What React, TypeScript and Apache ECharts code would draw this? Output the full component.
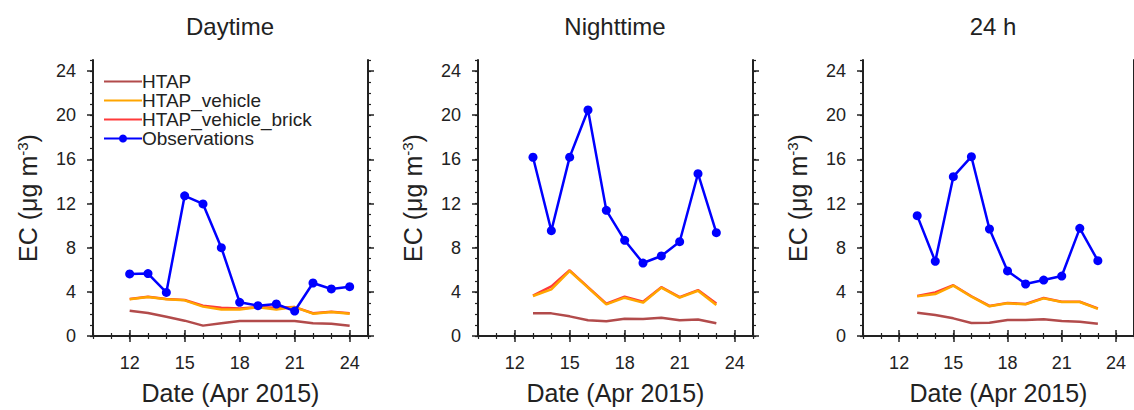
import React, { useEffect, useRef } from 'react';
import * as echarts from 'echarts';

// Dates (day of April 2015)
const dayDates = [12, 13, 14, 15, 16, 17, 18, 19, 20, 21, 22, 23, 24];
const nightDates = [13, 14, 15, 16, 17, 18, 19, 20, 21, 22, 23];
const fullDates = [13, 14, 15, 16, 17, 18, 19, 20, 21, 22, 23];

// Daytime
const dayHTAP = [2.29, 2.08, 1.75, 1.39, 0.94, 1.15, 1.36, 1.36, 1.36, 1.36, 1.15, 1.12, 0.93];
const dayVehicle = [3.32, 3.53, 3.32, 3.23, 2.66, 2.41, 2.41, 2.6, 2.41, 2.62, 2.02, 2.17, 2.02];
const dayBrick = [3.35, 3.56, 3.35, 3.26, 2.74, 2.55, 2.5, 2.62, 2.55, 2.62, 2.06, 2.2, 2.06];
const dayObs = [5.62, 5.65, 3.95, 12.7, 11.96, 8.0, 3.05, 2.75, 2.9, 2.26, 4.8, 4.26, 4.47];

// Nighttime
const nightHTAP = [2.05, 2.05, 1.78, 1.42, 1.33, 1.57, 1.54, 1.66, 1.42, 1.5, 1.15];
const nightVehicle = [3.62, 4.23, 5.89, 4.38, 2.87, 3.47, 3.02, 4.38, 3.47, 4.1, 2.81];
const nightBrick = [3.66, 4.5, 5.95, 4.42, 2.92, 3.56, 3.1, 4.42, 3.52, 4.16, 2.95];
const nightObs = [16.19, 9.54, 16.2, 20.47, 11.38, 8.67, 6.61, 7.25, 8.54, 14.7, 9.36];

// 24 h
const fullHTAP = [2.11, 1.9, 1.6, 1.18, 1.2, 1.45, 1.45, 1.51, 1.36, 1.3, 1.11];
const fullVehicle = [3.59, 3.8, 4.56, 3.56, 2.69, 2.96, 2.87, 3.41, 3.08, 3.08, 2.45];
const fullBrick = [3.62, 3.95, 4.6, 3.6, 2.72, 3.0, 2.9, 3.45, 3.1, 3.1, 2.5];
const fullObs = [10.9, 6.76, 14.43, 16.24, 9.69, 5.89, 4.71, 5.07, 5.43, 9.75, 6.82];

const panelTitles = ['Daytime', 'Nighttime', '24 h'];
const xMajorTicks = [12, 15, 18, 21, 24];
const yMajorTicks = [0, 4, 8, 12, 16, 20, 24];
const seriesNames = ['HTAP', 'HTAP_vehicle', 'HTAP_vehicle_brick', 'Observations'];

const panels = [
  { dates: dayDates, htap: dayHTAP, vehicle: dayVehicle, brick: dayBrick, obs: dayObs },
  { dates: nightDates, htap: nightHTAP, vehicle: nightVehicle, brick: nightBrick, obs: nightObs },
  { dates: fullDates, htap: fullHTAP, vehicle: fullVehicle, brick: fullBrick, obs: fullObs },
];

const FONT = "'Liberation Sans', Arial, Helvetica, sans-serif";
const INK = '#222222';
const gridLefts = [93, 478, 863];
const gridTitleX = [230, 615, 993];

export default function App() {
  const ref = useRef<HTMLDivElement>(null);

  useEffect(() => {
    document.body.style.margin = '0';
    if (!ref.current) return;
    const chart = echarts.init(ref.current, undefined, { renderer: 'svg' });

    const grids: any[] = [];
    const xAxes: any[] = [];
    const yAxes: any[] = [];
    const series: any[] = [];

    const lineStyleAxis = { show: true, lineStyle: { color: INK, width: 2 } };

    panels.forEach((p, i) => {
      grids.push({ left: gridLefts[i], top: 60, width: 275, height: 276, containLabel: false });

      const baseX = { type: 'value', gridIndex: i, min: 10, max: 25, splitLine: { show: false } };
      xAxes.push({
        ...baseX, position: 'bottom', interval: 1,
        axisLine: lineStyleAxis,
        axisTick: { show: true, length: 3, lineStyle: { color: INK, width: 1.2 } },
        axisLabel: { show: false },
      });
      xAxes.push({
        ...baseX, position: 'bottom',
        name: 'Date (Apr 2015)', nameLocation: 'middle', nameGap: 44,
        nameTextStyle: { fontSize: 25, color: INK, fontFamily: FONT },
        axisLine: { show: false },
        axisTick: { show: true, length: 6, customValues: xMajorTicks, lineStyle: { color: INK, width: 1.5 } },
        axisLabel: { show: true, customValues: xMajorTicks, fontSize: 18, color: INK, fontFamily: FONT, margin: 18 },
      });
      xAxes.push({
        ...baseX, position: 'top', interval: 1,
        axisLine: lineStyleAxis,
        axisTick: { show: true, length: 3, lineStyle: { color: INK, width: 1.2 } },
        axisLabel: { show: false },
      });
      xAxes.push({
        ...baseX, position: 'top',
        axisLine: { show: false },
        axisTick: { show: true, length: 6, customValues: xMajorTicks, lineStyle: { color: INK, width: 1.5 } },
        axisLabel: { show: false },
      });

      const baseY = { type: 'value', gridIndex: i, min: 0, max: 25, splitLine: { show: false } };
      yAxes.push({
        ...baseY, position: 'left', interval: 1,
        axisLine: lineStyleAxis,
        axisTick: { show: true, length: 3, lineStyle: { color: INK, width: 1.2 } },
        axisLabel: { show: false },
      });
      yAxes.push({
        ...baseY, position: 'left',
        name: '{a|EC (μg m}{s|-3}{a|)}', nameLocation: 'middle', nameGap: 53, nameRotate: 90,
        nameTextStyle: {
          color: INK, fontFamily: FONT, fontSize: 25,
          rich: {
            a: { fontSize: 25, color: INK, fontFamily: FONT },
            s: { fontSize: 15, color: INK, fontFamily: FONT, verticalAlign: 'top' },
          },
        },
        axisLine: { show: false },
        axisTick: { show: true, length: 6, customValues: yMajorTicks, lineStyle: { color: INK, width: 1.5 } },
        axisLabel: { show: true, customValues: yMajorTicks, fontSize: 18, color: INK, fontFamily: FONT, margin: 17 },
      });
      yAxes.push({
        ...baseY, position: 'right', interval: 1,
        axisLine: lineStyleAxis,
        axisTick: { show: true, length: 3, lineStyle: { color: INK, width: 1.2 } },
        axisLabel: { show: false },
      });
      yAxes.push({
        ...baseY, position: 'right',
        axisLine: { show: false },
        axisTick: { show: true, length: 6, customValues: yMajorTicks, lineStyle: { color: INK, width: 1.5 } },
        axisLabel: { show: false },
      });

      const xi = i * 4;
      const yi = i * 4;
      const pairs = (vals: number[]) => vals.map((v, k) => [p.dates[k], v]);
      const common = { type: 'line', xAxisIndex: xi, yAxisIndex: yi, clip: false };
      series.push({
        ...common, name: 'HTAP', data: pairs(p.htap), showSymbol: false, symbol: 'none',
        lineStyle: { color: '#b24b4b', width: 2.5 }, itemStyle: { color: '#b24b4b' }, z: 2,
      });
      series.push({
        ...common, name: 'HTAP_vehicle_brick', data: pairs(p.brick), showSymbol: false, symbol: 'none',
        lineStyle: { color: '#ff3a3a', width: 2.5 }, itemStyle: { color: '#ff3a3a' }, z: 3,
      });
      series.push({
        ...common, name: 'HTAP_vehicle', data: pairs(p.vehicle), showSymbol: false, symbol: 'none',
        lineStyle: { color: '#ffa500', width: 2.5 }, itemStyle: { color: '#ffa500' }, z: 4,
      });
      series.push({
        ...common, name: 'Observations', data: pairs(p.obs), symbol: 'circle', symbolSize: 9,
        lineStyle: { color: '#0000ff', width: 2.5 }, itemStyle: { color: '#0000ff' }, z: 5,
      });
    });

    const graphic = panelTitles.map((t, i) => ({
      type: 'text', x: gridTitleX[i], y: 26,
      style: {
        text: t, fill: INK, fontSize: 24, fontFamily: FONT,
        textAlign: 'center', textVerticalAlign: 'middle', verticalAlign: 'middle',
      },
    }));

    const legendData = seriesNames.map((n) =>
      n === 'Observations' ? { name: n } : { name: n, itemStyle: { opacity: 0 } }
    );

    chart.setOption({
      animation: false,
      backgroundColor: '#ffffff',
      grid: grids,
      xAxis: xAxes,
      yAxis: yAxes,
      series,
      graphic,
      legend: {
        data: legendData,
        orient: 'vertical',
        left: 98, top: 67,
        itemWidth: 38, itemHeight: 10, itemGap: 0,
        textStyle: { fontSize: 19, color: INK, fontFamily: FONT, padding: [0, 0, 0, -5] },
        selectedMode: false,
      },
    });

    return () => chart.dispose();
  }, []);

  return <div ref={ref} style={{ width: 1134, height: 410 }} />;
}
